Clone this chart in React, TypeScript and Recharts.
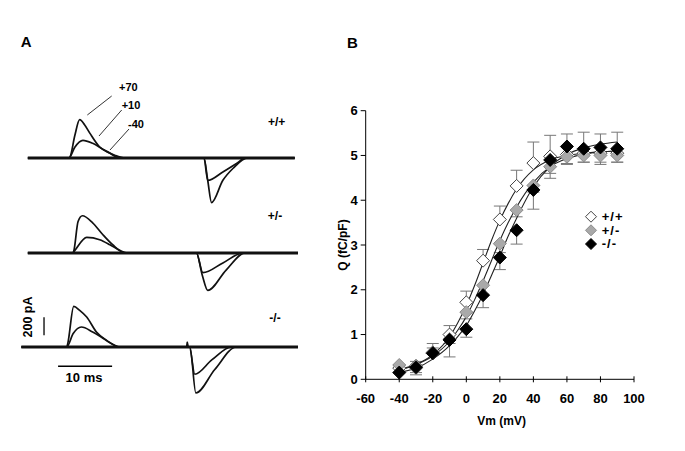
import { LineChart, Line, XAxis, YAxis, ReferenceLine, ComposedChart, Scatter, ErrorBar } from 'recharts'

const FONT = '"Liberation Sans", Arial, Helvetica, sans-serif'

// Panel A - charge movement traces, time in ms, current in pA
const wt70T = [0, 7.6, 7.8, 8.7, 9.6, 10.5, 11.5, 13.3, 15.2, 17.0, 32.6, 33.3, 34.0, 36.1, 38.0, 40.7, 49.4]
const wt70I = [0, 0, 10, 250, 426, 370, 274, 122, 52, 0, 0, -250, -495, -248, -114, 0, 0]
const wt10T = [0, 7.6, 8.7, 10.2, 12.0, 13.9, 16.1, 18.0, 32.6, 33.3, 36.1, 38.7, 40.2, 49.4]
const wt10I = [0, 0, 120, 196, 163, 97, 30, 0, 0, -248, -155, -59, 0, 0]
const wtM40T = [0, 49.4]
const wtM40I = [0, 0]

const het70T = [0, 8.3, 8.5, 9.3, 10.1, 12.0, 13.9, 15.7, 18.0, 31.2, 32.3, 33.3, 36.7, 40.2, 50]
const het70I = [0, 0, 20, 350, 414, 336, 203, 92, 0, 0, -250, -415, -190, 0, 0]
const het10T = [0, 8.3, 8.6, 10.9, 13.3, 15.2, 17.0, 18.5, 31.2, 32.4, 36.1, 39.8, 50]
const het10I = [0, 0, 20, 173, 148, 92, 30, 0, 0, -219, -110, 0, 0]
const hetM40T = [0, 50]
const hetM40I = [0, 0]

const ko70T = [-1.2, 7.2, 7.4, 8.5, 9.6, 10.9, 12.7, 14.6, 17.0, 29.4, 29.5, 29.7, 30.0, 31.1, 34.6, 38.6, 50]
const ko70I = [0, 0, 40, 452, 407, 333, 167, 74, 0, 0, 55, 0, 0, -511, -250, 0, 0]
const ko10T = [-1.2, 7.2, 8.4, 9.9, 12.0, 13.9, 15.5, 17.0, 29.9, 30.9, 34.1, 37.7, 50]
const ko10I = [0, 0, 149, 222, 167, 97, 35, 0, 0, -303, -140, 0, 0]
const koM40T = [-1.2, 50]
const koM40I = [0, 0]

// Panel B - Q-V relation
const voltages = [-40, -30, -20, -10, 0, 10, 20, 30, 40, 50, 60, 70, 80, 90]
const wtQ = [0.25, 0.3, 0.6, 1.0, 1.72, 2.65, 3.57, 4.32, 4.83, 4.98, 5.02, 5.05, 5.05, 5.05]
const wtErrUp = [0.05, 0.1, 0.1, 0.2, 0.25, 0.25, 0.3, 0.35, 0.47, 0.47, 0, 0, 0, 0]
const wtErrDown = [0, 0, 0, 0, 0, 0, 0, 0, 0, 0, 0.22, 0.2, 0.25, 0.2]
const hetQ = [0.32, 0.25, 0.58, 0.9, 1.5, 2.1, 3.03, 3.78, 4.33, 4.75, 4.97, 5.0, 5.0, 5.0]
const hetErrUp = [0, 0, 0, 0, 0, 0, 0, 0, 0, 0, 0, 0, 0, 0]
const hetErrDown = [0, 0.1, 0, 0.1, 0.15, 0.2, 0.2, 0.15, 0.15, 0.15, 0.15, 0.15, 0.15, 0.15]
const koQ = [0.15, 0.27, 0.58, 0.88, 1.12, 1.88, 2.72, 3.33, 4.23, 4.9, 5.2, 5.15, 5.18, 5.15]
const koErrUp = [0, 0, 0.22, 0, 0, 0, 0, 0, 0, 0, 0.28, 0.37, 0.3, 0.37]
const koErrDown = [0, 0.17, 0, 0.38, 0.18, 0.28, 0.27, 0.31, 0.43, 0.41, 0, 0, 0, 0]

// fitted Boltzmann curves
const fitV = [-40, -30, -20, -10, -5, 0, 5, 10, 15, 20, 25, 30, 40, 50, 60, 70, 80, 90]
const fitWt = [0.2, 0.33, 0.55, 0.95, 1.27, 1.65, 2.1, 2.6, 3.1, 3.55, 3.93, 4.25, 4.68, 4.9, 5.0, 5.05, 5.08, 5.1]
const fitHet = [0.22, 0.33, 0.52, 0.85, 1.1, 1.4, 1.78, 2.2, 2.65, 3.1, 3.5, 3.85, 4.4, 4.75, 4.93, 5.03, 5.08, 5.1]
const fitKo = [0.15, 0.25, 0.45, 0.75, 0.96, 1.2, 1.53, 1.9, 2.32, 2.75, 3.2, 3.6, 4.3, 4.75, 5.02, 5.17, 5.25, 5.3]

const vTicks = [-60, -40, -20, 0, 20, 40, 60, 80, 100]
const qTicks = [0, 1, 2, 3, 4, 5, 6]

const trace = (t: number[], cur: number[]) => t.map((x, i) => ({ t: x, i: cur[i] }))
const points = (q: number[], lo: number[], hi: number[]) =>
  voltages.map((v, i) => ({ v, q: q[i], err: [lo[i], hi[i]] }))
const curve = (q: number[]) => fitV.map((v, i) => ({ v, q: q[i] }))

const diamond = (fill: string, stroke: string, r: number) => (p: any) => (
  <polygon
    points={`${p.cx},${p.cy - r} ${p.cx + r},${p.cy} ${p.cx},${p.cy + r} ${p.cx - r},${p.cy}`}
    fill={fill}
    stroke={stroke}
    strokeWidth={1}
  />
)

const XTick = (p: any) => (
  <g>
    <line x1={p.x} x2={p.x} y1={p.y - 3} y2={p.y + 3} stroke="#000" />
    <text x={p.x} y={p.y + 23.4} textAnchor="middle" fontSize={13} fontWeight={700} fontFamily={FONT} fill="#000">
      {p.payload.value}
    </text>
  </g>
)

function TraceChart({ top, sets, children }: { top: number; sets: [number[], number[]][]; children?: any }) {
  return (
    <div style={{ position: 'absolute', left: 17.2, top, width: 281, height: 126 }}>
      <LineChart width={281} height={126} margin={{ top: 0, right: 0, bottom: 0, left: 0 }}>
        <XAxis type="number" dataKey="t" domain={[-2, 50]} hide allowDataOverflow />
        <YAxis type="number" dataKey="i" domain={[-700, 700]} hide allowDataOverflow />
        {sets.map(([t, c], k) => (
          <Line
            key={k}
            data={trace(t, c)}
            dataKey="i"
            type="monotone"
            dot={false}
            stroke="#111"
            strokeWidth={k === 2 ? 3.2 : 1.7}
            isAnimationActive={false}
          />
        ))}
        {children}
      </LineChart>
    </div>
  )
}

const lbl = { fontFamily: FONT, fontWeight: 700, fill: '#000' } as const

export default function App() {
  return (
    <div style={{ position: 'absolute', left: 0, top: 0, width: 685, height: 451, background: '#fff' }}>
      <TraceChart top={94.7} sets={[[wt70T, wt70I], [wt10T, wt10I], [wtM40T, wtM40I]]} />
      <TraceChart top={190.3} sets={[[het70T, het70I], [het10T, het10I], [hetM40T, hetM40I]]} />
      <TraceChart top={283.7} sets={[[ko70T, ko70I], [ko10T, ko10I], [koM40T, koM40I]]}>
        <ReferenceLine segment={[{ x: 5.6, y: -214 }, { x: 15.6, y: -214 }]} stroke="#000" strokeWidth={1.3} ifOverflow="visible" />
        <ReferenceLine segment={[{ x: 3, y: 130 }, { x: 3, y: 330 }]} stroke="#000" strokeWidth={1.3} ifOverflow="visible" />
      </TraceChart>

      <div style={{ position: 'absolute', left: 300, top: 80 }}>
        <ComposedChart width={360} height={360} margin={{ top: 30.7, right: 26, bottom: 15.7, left: 0 }}>
          <XAxis
            type="number"
            dataKey="v"
            domain={[-60, 100]}
            ticks={vTicks}
            tick={(p: any) => <XTick {...p} />}
            tickLine={false}
            tickSize={0}
            tickMargin={0}
            height={45}
            axisLine={{ stroke: '#000' }}
            allowDataOverflow
          />
          <YAxis
            type="number"
            dataKey="q"
            domain={[0, 6]}
            ticks={qTicks}
            width={65.7}
            tickSize={5}
            tickMargin={3}
            tick={{ fontSize: 13, fontWeight: 700, fill: '#000', fontFamily: FONT }}
            axisLine={{ stroke: '#000' }}
            tickLine={{ stroke: '#000' }}
            allowDataOverflow
          />
          <Scatter data={points(wtQ, wtErrDown, wtErrUp)} shape={diamond('#fff', '#444', 6.5)} isAnimationActive={false}>
            <ErrorBar dataKey="err" direction="y" width={6} stroke="#777" strokeWidth={1} />
          </Scatter>
          <Scatter data={points(hetQ, hetErrDown, hetErrUp)} shape={diamond('#a9a9a9', '#8c8c8c', 6.5)} isAnimationActive={false}>
            <ErrorBar dataKey="err" direction="y" width={6} stroke="#777" strokeWidth={1} />
          </Scatter>
          <Scatter data={points(koQ, koErrDown, koErrUp)} shape={diamond('#000', '#000', 6.5)} isAnimationActive={false}>
            <ErrorBar dataKey="err" direction="y" width={6} stroke="#777" strokeWidth={1} />
          </Scatter>
          <Line data={curve(fitWt)} dataKey="q" type="monotone" dot={false} stroke="#222" strokeWidth={1.1} isAnimationActive={false} />
          <Line data={curve(fitHet)} dataKey="q" type="monotone" dot={false} stroke="#222" strokeWidth={1.1} isAnimationActive={false} />
          <Line data={curve(fitKo)} dataKey="q" type="monotone" dot={false} stroke="#222" strokeWidth={1.1} isAnimationActive={false} />
        </ComposedChart>
      </div>

      <svg width={685} height={451} style={{ position: 'absolute', left: 0, top: 0, pointerEvents: 'none' }}>
        <text x={20.7} y={47.3} fontSize={15} {...lbl}>A</text>
        <text x={347} y={48} fontSize={15} {...lbl}>B</text>

        <line x1={87.3} y1={115} x2={111.7} y2={96} stroke="#000" strokeWidth={0.8} />
        <line x1={99} y1={136} x2={121.7} y2={110} stroke="#000" strokeWidth={0.8} />
        <line x1={110} y1={150} x2={129} y2={129} stroke="#000" strokeWidth={0.8} />
        <text x={128.3} y={90.5} fontSize={11} textAnchor="middle" {...lbl}>+70</text>
        <text x={131} y={109} fontSize={11} textAnchor="middle" {...lbl}>+10</text>
        <text x={136} y={128} fontSize={11} textAnchor="middle" {...lbl}>-40</text>

        <text x={276.7} y={125.7} fontSize={12} textAnchor="middle" {...lbl}>+/+</text>
        <text x={275} y={220} fontSize={12} textAnchor="middle" {...lbl}>+/-</text>
        <text x={275} y={322} fontSize={12} textAnchor="middle" {...lbl}>-/-</text>

        <text transform="translate(31.6,317) rotate(-90)" fontSize={12.5} textAnchor="middle" {...lbl}>200 pA</text>
        <text x={84} y={381.7} fontSize={13} textAnchor="middle" {...lbl}>10 ms</text>

        <text transform="translate(347,245) rotate(-90)" fontSize={12} textAnchor="middle" {...lbl}>Q (fC/pF)</text>
        <text x={501.7} y={425} fontSize={12} textAnchor="middle" {...lbl}>Vm (mV)</text>

        <polygon points="591,211.2 596.5,216.7 591,222.2 585.5,216.7" fill="#fff" stroke="#444" />
        <polygon points="591,224.8 596.5,230.3 591,235.8 585.5,230.3" fill="#a9a9a9" stroke="#8c8c8c" />
        <polygon points="591,238.5 596.5,244 591,249.5 585.5,244" fill="#000" stroke="#000" />
        <text x={601.7} y={221} fontSize={13} letterSpacing={1} {...lbl}>+/+</text>
        <text x={601.7} y={234.6} fontSize={13} letterSpacing={1} {...lbl}>+/-</text>
        <text x={601.7} y={248.3} fontSize={13} letterSpacing={1} {...lbl}>-/-</text>
      </svg>
    </div>
  )
}
